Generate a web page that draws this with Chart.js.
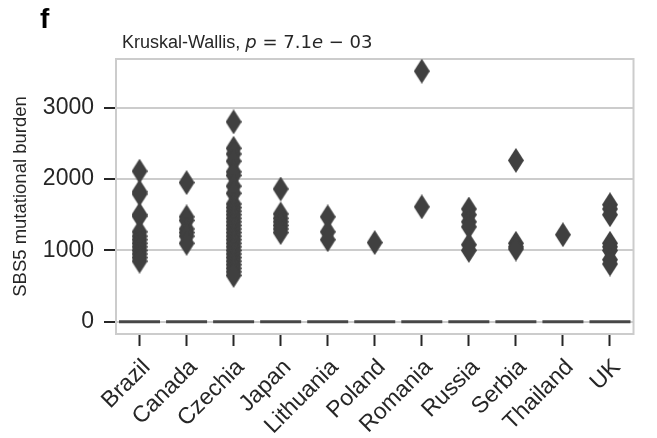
<!DOCTYPE html>
<html>
<head>
<meta charset="utf-8">
<script src="https://cdn.jsdelivr.net/npm/chart.js"></script>
<style>
  html, body { margin: 0; padding: 0; background: #ffffff; }
  #wrap { width: 657px; height: 438px; }
</style>
</head>
<body>
<div id="wrap"><canvas id="chart" width="657" height="438"></canvas></div>
<script>
// Categories and values
const countries = ['Brazil', 'Canada', 'Czechia', 'Japan', 'Lithuania', 'Poland', 'Romania', 'Russia', 'Serbia', 'Thailand', 'UK'];
const medians = [0, 0, 0, 0, 0, 0, 0, 0, 0, 0, 0];

// outliers (diamonds) per country
const brazil = [2110, 1820, 1790, 1500, 1480, 1260, 1200, 1150, 1100, 1050, 1000, 950, 900, 850];
const canada = [1950, 1470, 1420, 1300, 1250, 1200, 1100];
const czechia = [2800, 2430, 2350, 2250, 2100, 2050, 1900, 1800, 1650, 1600, 1550, 1500, 1450, 1400, 1350, 1300, 1250, 1200, 1150, 1100, 1050, 1000, 950, 900, 850, 800, 750, 700, 650];
const japan = [1860, 1510, 1450, 1400, 1350, 1300, 1250];
const lithuania = [1470, 1260, 1150];
const poland = [1110];
const romania = [3510, 1610];
const russia = [1580, 1500, 1400, 1330, 1080, 1000];
const serbia = [2260, 1100, 1050, 1020];
const thailand = [1220];
const uk = [1640, 1580, 1500, 1100, 1050, 1000, 870, 810];
const outliers = [brazil, canada, czechia, japan, lithuania, poland, romania, russia, serbia, thailand, uk];

const yTicks = [0, 1000, 2000, 3000];
const yLabel = 'SBS5 mutational burden';
const panelLetter = 'f';
const testName = 'Kruskal-Wallis, ';
const testStat = [['p', true], [' = ', false], ['7.1', false], ['e', true], [' \u2212 ', false], ['03', false]];

const FONT = '"Liberation Sans", Arial, sans-serif';
const DARK = '#262626';
const MARK = '#404040';
const LIGHT = '#cccccc';

// thin diamond marker like matplotlib 'd'
function thinDiamond(w, h, color) {
	const c = document.createElement('canvas');
	c.width = w;
	c.height = h;
	const g = c.getContext('2d');
	g.fillStyle = color;
	g.beginPath();
	g.moveTo(w / 2, 0);
	g.lineTo(w, h / 2);
	g.lineTo(w / 2, h);
	g.lineTo(0, h / 2);
	g.closePath();
	g.fill();
	return c;
}

const outlierPoints = [];
outliers.forEach((vals, i) => {
	vals.forEach(v => outlierPoints.push({ x: countries[i], y: v }));
});

// frame around the plot area and the texts above it
const framePlugin = {
	id: 'frame',
	beforeDatasetsDraw(chart) {
		const { ctx, chartArea: a } = chart;
		ctx.save();
		ctx.strokeStyle = LIGHT;
		ctx.lineWidth = 2;
		ctx.strokeRect(a.left, a.top, a.right - a.left, a.bottom - a.top);
		ctx.restore();
	},
	afterDraw(chart) {
		const { ctx, chartArea: a } = chart;
		ctx.save();
		ctx.fillStyle = '#000000';
		ctx.textBaseline = 'alphabetic';
		ctx.font = 'bold 28px ' + FONT;
		ctx.fillText(panelLetter, 40, 28);

		ctx.fillStyle = DARK;
		let x = a.left + 6;
		const y = 48;
		ctx.font = '18px ' + FONT;
		ctx.fillText(testName, x, y);
		x += ctx.measureText(testName).width;
		testStat.forEach(([txt, italic]) => {
			ctx.font = (italic ? 'italic ' : '') + '18px "DejaVu Sans"';
			ctx.fillText(txt, x, y);
			x += ctx.measureText(txt).width;
		});
		ctx.restore();
	}
};

new Chart(document.getElementById('chart'), {
	type: 'line',
	data: {
		labels: countries,
		datasets: [
			{
				label: 'median',
				data: medians,
				showLine: false,
				pointStyle: 'line',
				pointRadius: 20.5,
				pointBorderWidth: 3,
				pointBorderColor: '#474747',
				pointBackgroundColor: '#474747'
			},
			{
				label: 'outliers',
				data: outlierPoints,
				showLine: false,
				pointStyle: thinDiamond(16, 25, MARK),
				pointRadius: 12
			}
		]
	},
	options: {
		responsive: false,
		animation: false,
		events: [],
		layout: { padding: { top: 59, right: 10, left: 0, bottom: 0 } },
		plugins: {
			legend: { display: false },
			tooltip: { enabled: false }
		},
		scales: {
			x: {
				type: 'category',
				offset: true,
				grid: {
					display: true,
					drawOnChartArea: false,
					drawTicks: true,
					offset: false,
					tickLength: 12,
					tickWidth: 2,
					tickColor: DARK
				},
				border: { display: true, color: LIGHT, width: 2 },
				ticks: {
					font: { family: FONT, size: 23 },
					color: DARK,
					minRotation: 45,
					maxRotation: 45,
					autoSkip: false,
					padding: 8,
					labelOffset: 7
				},
				afterFit(scale) { scale.height = 104; }
			},
			y: {
				type: 'linear',
				min: -170,
				max: 3680,
				afterBuildTicks(scale) {
					scale.ticks = yTicks.map(v => ({ value: v }));
				},
				grid: {
					color: LIGHT,
					lineWidth: 2,
					tickLength: 12,
					tickWidth: 2,
					tickColor: DARK
				},
				border: { display: true, color: LIGHT, width: 2 },
				ticks: {
					font: { family: FONT, size: 23 },
					color: DARK,
					padding: 10,
					callback: v => String(v)
				},
				title: {
					display: true,
					text: yLabel,
					font: { family: FONT, size: 18.5 },
					color: DARK,
					padding: { top: 10, bottom: 0 }
				},
				afterFit(scale) { scale.width = 116; }
			}
		}
	},
	plugins: [framePlugin]
});
</script>
</body>
</html>
